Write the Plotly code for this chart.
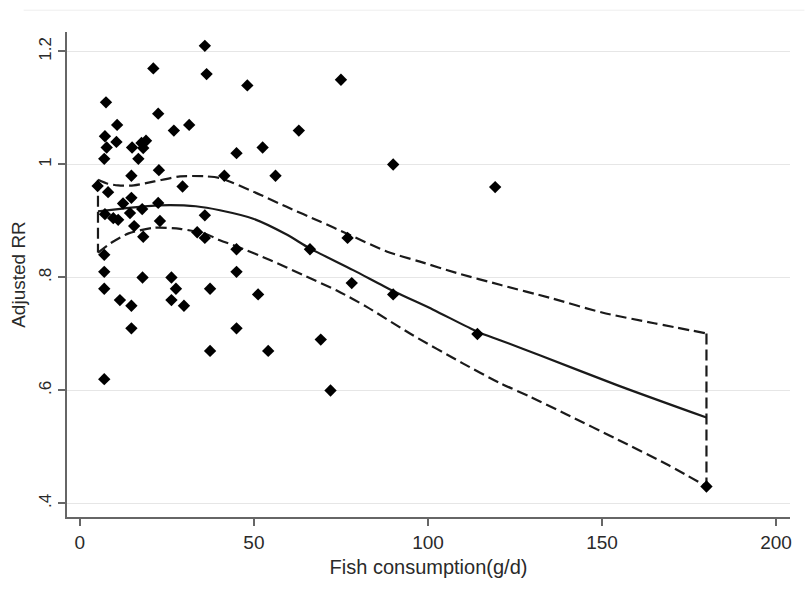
import plotly.graph_objects as go

# Scatter points: fish consumption (g/d) and adjusted RR
fish_x = [35.9, 36.4, 21.1, 48.1, 7.5, 22.5, 10.7, 27.0, 31.4, 7.2, 7.7, 7.0,
          10.5, 15.0, 16.8, 17.7, 19.0, 18.2, 45.0, 52.5, 62.9, 22.7, 14.8, 41.5,
          56.2, 5.1, 8.1, 29.5, 14.8, 12.4, 22.5, 75.0, 90.0, 119.3,
          7.2, 9.6, 11.0, 14.4, 15.6, 17.9, 18.2, 23.0, 35.9, 33.7, 35.9,
          45.0, 45.0, 7.0, 7.0, 7.0, 18.0, 11.5, 14.8, 14.8, 26.3, 27.6, 26.3,
          29.9, 37.4, 45.0, 37.4, 51.2, 54.1, 7.0,
          76.9, 66.1, 78.1, 90.0, 114.2, 69.2, 72.0, 180.0]
adj_rr = [1.21, 1.16, 1.17, 1.14, 1.11, 1.09, 1.07, 1.06, 1.07, 1.05, 1.03, 1.01,
          1.04, 1.03, 1.01, 1.038, 1.042, 1.029, 1.02, 1.03, 1.06, 0.99, 0.98, 0.98,
          0.98, 0.962, 0.951, 0.961, 0.941, 0.931, 0.932, 1.15, 1.00, 0.96,
          0.912, 0.905, 0.902, 0.914, 0.891, 0.921, 0.872, 0.90, 0.91, 0.88, 0.87,
          0.85, 0.81, 0.84, 0.81, 0.78, 0.80, 0.76, 0.75, 0.71, 0.80, 0.78, 0.76,
          0.75, 0.78, 0.71, 0.67, 0.77, 0.67, 0.62,
          0.87, 0.85, 0.79, 0.77, 0.70, 0.69, 0.60, 0.43]

# Fitted curve
fit_x = [5.2, 11.0, 18.5, 25.9, 33.3, 40.2, 49.8, 59.4, 65.9, 78.5, 90.0, 101.5,
         114.2, 120.7, 132.3, 154.5, 180.0]
fit_y = [0.917, 0.921, 0.926, 0.928, 0.926, 0.919, 0.904, 0.876, 0.852, 0.813,
         0.776, 0.743, 0.704, 0.689, 0.662, 0.609, 0.552]

# Upper confidence band
upper_x = [5.2, 8.0, 11.0, 15.5, 21.4, 28.8, 36.2, 40.2, 49.8, 59.4, 69.0, 76.6,
           88.1, 97.7, 108.2, 120.7, 135.0, 150.0, 165.0, 180.0]
upper_y = [0.973, 0.966, 0.963, 0.963, 0.970, 0.979, 0.979, 0.976, 0.952, 0.925,
           0.899, 0.878, 0.846, 0.828, 0.808, 0.787, 0.764, 0.738, 0.719, 0.701]

# Lower confidence band
lower_x = [5.2, 8.9, 14.0, 21.4, 28.8, 36.2, 40.2, 45.0, 54.6, 64.2, 73.8, 82.4,
           95.3, 110.0, 120.7, 129.3, 139.7, 154.5, 169.3, 180.0]
lower_y = [0.844, 0.861, 0.878, 0.888, 0.886, 0.877, 0.866, 0.855, 0.831, 0.804,
           0.777, 0.748, 0.699, 0.648, 0.613, 0.589, 0.558, 0.513, 0.467, 0.430]

x_ticks = [0, 50, 100, 150, 200]
y_ticks = [0.4, 0.6, 0.8, 1.0, 1.2]
y_ticktext = [".4", ".6", ".8", "1", "1.2"]

# vertical closing segments of the band at both ends
ends_x = [upper_x[0], lower_x[0], None, upper_x[-1], lower_x[-1]]
ends_y = [upper_y[0], lower_y[0], None, upper_y[-1], lower_y[-1]]

line_col = "#1a1a1a"
dash = "11px,5px"
fig = go.Figure()
for bx, by in ((upper_x, upper_y), (lower_x, lower_y)):
    fig.add_trace(go.Scatter(x=bx, y=by, mode="lines",
                             line=dict(color=line_col, width=2.2, dash=dash, shape="spline", smoothing=0.7),
                             hoverinfo="skip", showlegend=False))
fig.add_trace(go.Scatter(x=ends_x, y=ends_y, mode="lines",
                         line=dict(color=line_col, width=2.2, dash=dash),
                         hoverinfo="skip", showlegend=False))
fig.add_trace(go.Scatter(x=fit_x, y=fit_y, mode="lines",
                         line=dict(color=line_col, width=2.2, shape="spline", smoothing=0.7),
                         showlegend=False))
fig.add_trace(go.Scatter(x=fish_x, y=adj_rr, mode="markers",
                         marker=dict(symbol="diamond", size=9.5, color="#000000"),
                         showlegend=False))

font_family = "Liberation Sans, Arial, sans-serif"
fig.update_layout(
    width=807, height=593,
    margin=dict(l=67, r=17, t=32, b=76),
    paper_bgcolor="white", plot_bgcolor="white",
    font=dict(family=font_family, color="#2a2a2a"),
    xaxis=dict(range=[-3.7, 204], tickvals=x_ticks, showgrid=False, zeroline=False,
               showline=True, linecolor="#666666", linewidth=1.5,
               ticks="outside", ticklen=7, tickcolor="#666666", tickwidth=1.5,
               tickfont=dict(size=19, family=font_family),
               title=dict(text="Fish consumption(g/d)", font=dict(size=20), standoff=8)),
    yaxis=dict(range=[0.376, 1.2345], tickvals=y_ticks, ticktext=y_ticktext,
               tickangle=-90, showgrid=True, gridcolor="#e6e6e6", gridwidth=1,
               zeroline=False, showline=True, linecolor="#666666", linewidth=1.5,
               ticks="outside", ticklen=7, tickcolor="#666666", tickwidth=1.5,
               tickfont=dict(size=17, family=font_family),
               title=dict(text="Adjusted RR", font=dict(size=19), standoff=6)),
)
fig.add_shape(type="line", xref="paper", yref="paper", x0=-0.06, x1=1.02, y0=1.045, y1=1.045,
              line=dict(color="#eeeeee", width=1))
fig.write_html("out.html")
